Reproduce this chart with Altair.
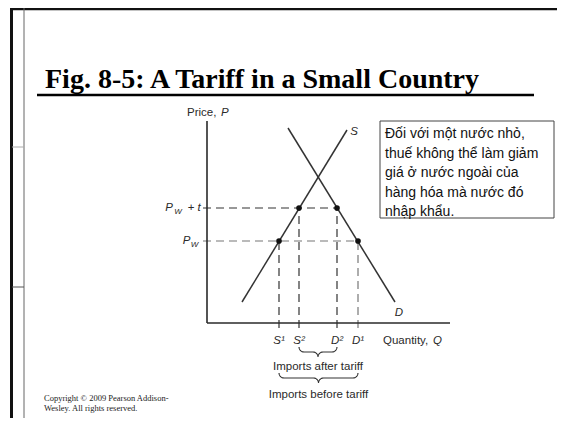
import math
import altair as alt
import pandas as pd

W, H = 549, 410

# ---------------- data ----------------
supply_q = [35, 140]
supply_p = [21, 193]
demand_q = [81, 188]
demand_p = [195, 21]
price_world = 82          # P_W
price_tariff = 115        # P_W + t
qty_labels = ["S¹", "S²", "D²", "D¹"]
qty_values = [72, 92, 130, 151]
q_axis_max = 243
p_axis_max = 202

title_text = "Fig. 8-5: A Tariff in a Small Country"
box_lines = ["Đối với một nước nhỏ,", "thuế không thể làm giảm",
             "giá ở nước ngoài của", "hàng hóa mà nước đó", "nhập khẩu."]
copyright_lines = ["Copyright © 2009 Pearson Addison-", "Wesley. All rights reserved."]
brace_labels = ["Imports after tariff", "Imports before tariff"]

S1, S2, D2, D1 = qty_values

XS = alt.Scale(domain=[-199, 350], nice=False, zero=False)
YS = alt.Scale(domain=[-95, 315], nice=False, zero=False)
SANS = "Liberation Sans"
SERIF = "Liberation Serif"
INK = "#2a2a2a"


def xq(field="q"):
    return alt.X(f"{field}:Q", scale=XS, axis=None)


def yp(field="p"):
    return alt.Y(f"{field}:Q", scale=YS, axis=None)


one = alt.InlineData(values=[{"k": 0}])

# ---------------- slide decoration ----------------
frame = [
    alt.Chart(one).mark_rule(color="#111", strokeWidth=3).encode(
        x=alt.value(3.5), y=alt.value(0), y2=alt.value(H)),
    alt.Chart(one).mark_rule(color="#111", strokeWidth=2.5).encode(
        x=alt.value(2), x2=alt.value(W), y=alt.value(1)),
    alt.Chart(one).mark_rule(color="#666", strokeWidth=1).encode(
        x=alt.value(16), y=alt.value(0), y2=alt.value(H)),
    alt.Chart(one).mark_rule(color="#aaa", strokeWidth=1).encode(
        x=alt.value(4), x2=alt.value(16), y=alt.value(139)),
    alt.Chart(one).mark_rule(color="#555", strokeWidth=1).encode(
        x=alt.value(4), x2=alt.value(16), y=alt.value(279)),
]

title = alt.Chart(one).mark_text(
    font=SERIF, fontSize=28, fontWeight="bold", align="left",
    baseline="alphabetic", color="#000"
).encode(x=alt.value(37), y=alt.value(80), text=alt.value(title_text))

underline = alt.Chart(one).mark_rule(color="#000", strokeWidth=2.5).encode(
    x=alt.value(29), x2=alt.value(526), y=alt.value(87))

copyright = alt.Chart(one).mark_text(
    font=SERIF, fontSize=8.5, align="left", baseline="alphabetic",
    lineHeight=10, color="#222"
).encode(x=alt.value(36), y=alt.value(393), text=alt.value(copyright_lines))

box = alt.Chart(one).mark_rect(fill="white", stroke="#444", strokeWidth=1).encode(
    x=alt.value(372), x2=alt.value(546), y=alt.value(113), y2=alt.value(210))

box_text = alt.Chart(one).mark_text(
    font=SANS, fontSize=14, align="left", baseline="alphabetic",
    lineHeight=19.5, color="#111"
).encode(x=alt.value(377), y=alt.value(130), text=alt.value(box_lines))

# ---------------- economics diagram ----------------
axes_df = pd.DataFrame({"q": [0, 0], "p": [0, 0],
                        "q2": [q_axis_max, 0], "p2": [0, p_axis_max]})
axes = alt.Chart(axes_df).mark_rule(color=INK, strokeWidth=1.6).encode(
    x=xq(), y=yp(), x2="q2:Q", y2="p2:Q")

curves_df = pd.DataFrame({
    "q": supply_q + demand_q,
    "p": supply_p + demand_p,
    "curve": ["S", "S", "D", "D"],
})
curves = alt.Chart(curves_df).mark_line(color="#333", strokeWidth=1.5).encode(
    x=xq(), y=yp(), detail="curve:N")

hdash_dark = alt.Chart(pd.DataFrame({"q": [-4], "q2": [D2], "p": [price_tariff]})).mark_rule(
    color="#333", strokeWidth=1.2, strokeDash=[8, 5]).encode(x=xq(), x2="q2:Q", y=yp())
hdash_light = alt.Chart(pd.DataFrame({"q": [-4], "q2": [D1], "p": [price_world]})).mark_rule(
    color="#777", strokeWidth=1.2, strokeDash=[8, 5]).encode(x=xq(), x2="q2:Q", y=yp())

vd = pd.DataFrame({"q": [S1, S2, D2], "p": [price_world, price_tariff, price_tariff],
                   "p0": [-5, -5, -5]})
vdash_dark = alt.Chart(vd).mark_rule(
    color="#333", strokeWidth=1.2, strokeDash=[8, 5]).encode(x=xq(), y=yp("p0"), y2="p:Q")
vdash_light = alt.Chart(pd.DataFrame({"q": [D1], "p": [price_world], "p0": [-5]})).mark_rule(
    color="#777", strokeWidth=1.2, strokeDash=[8, 5]).encode(x=xq(), y=yp("p0"), y2="p:Q")

pts_df = pd.DataFrame({"q": [S1, D1, S2, D2],
                       "p": [price_world, price_world, price_tariff, price_tariff]})
points = alt.Chart(pts_df).mark_point(filled=True, color="#111", size=32, opacity=1).encode(
    x=xq(), y=yp())

# curve labels
s_lab = alt.Chart(pd.DataFrame({"q": [supply_q[1]], "p": [supply_p[1]]})).mark_text(
    font=SANS, fontStyle="italic", fontSize=11.5, dx=7, dy=2, color=INK
).encode(x=xq(), y=yp(), text=alt.value("S"))
d_lab = alt.Chart(pd.DataFrame({"q": [demand_q[1]], "p": [demand_p[1]]})).mark_text(
    font=SANS, fontStyle="italic", fontSize=11.5, dx=4, dy=11, color=INK
).encode(x=xq(), y=yp(), text=alt.value("D"))

# quantity tick labels
qlab = alt.Chart(pd.DataFrame({"q": qty_values, "lab": qty_labels, "p": [0] * 4})).mark_text(
    font=SANS, fontStyle="italic", fontSize=11.5, dy=18, color=INK
).encode(x=xq(), y=yp(), text="lab:N")


# price tick labels
def ptext(p, txt, dx, dy=0, size=11.5, italic=True):
    return alt.Chart(pd.DataFrame({"q": [0], "p": [p]})).mark_text(
        font=SANS, fontStyle="italic" if italic else "normal", fontSize=size,
        dx=dx, dy=dy, color=INK
    ).encode(x=xq(), y=yp(), text=alt.value(txt))


plabels = [
    ptext(price_tariff, "P", -38),
    ptext(price_tariff, "W", -29, dy=4, size=8),
    ptext(price_tariff, "+", -16, italic=False),
    ptext(price_tariff, "t", -8),
    ptext(price_world, "P", -20.5),
    ptext(price_world, "W", -12.5, dy=4, size=8),
]

# axis titles
price_title = [
    alt.Chart(one).mark_text(font=SANS, fontSize=11.5, align="left", color=INK).encode(
        x=alt.value(179), y=alt.value(105), text=alt.value("Price,")),
    alt.Chart(one).mark_text(font=SANS, fontSize=11.5, fontStyle="italic", align="left",
                             color=INK).encode(
        x=alt.value(213), y=alt.value(105), text=alt.value("P")),
]
qty_title = [
    alt.Chart(one).mark_text(font=SANS, fontSize=11.5, align="left", color=INK).encode(
        x=alt.value(375), y=alt.value(333), text=alt.value("Quantity,")),
    alt.Chart(one).mark_text(font=SANS, fontSize=11.5, fontStyle="italic", align="left",
                             color=INK).encode(
        x=alt.value(425), y=alt.value(333), text=alt.value("Q")),
]


# braces (derived from the quantity values)
def brace(a, b, top, depth, name, n=8):
    r = depth / 2.0
    m = (a + b) / 2.0
    left = []
    for i in range(n + 1):
        t = math.pi / 2 * i / n
        left.append((a + r - r * math.cos(t), top - r * math.sin(t)))
    for i in range(n + 1):
        t = math.pi / 2 * i / n
        left.append((m - r + r * math.sin(t), top - 2 * r + r * math.cos(t)))
    right = [(2 * m - q, p) for q, p in reversed(left)]
    pts = left + right[1:]
    return pd.DataFrame({"q": [p[0] for p in pts], "p": [p[1] for p in pts],
                         "i": list(range(len(pts))), "b": name})


braces_df = pd.concat([brace(S2, D2, -24, 10, "after"),
                       brace(S1, D1, -50, 10, "before")])
braces = alt.Chart(braces_df).mark_line(color="#333", strokeWidth=1.1).encode(
    x=xq(), y=yp(), detail="b:N", order="i:Q")

brace_text = alt.Chart(pd.DataFrame({
    "q": [(S2 + D2) / 2, (S1 + D1) / 2], "p": [-44, -72], "lab": brace_labels
})).mark_text(font=SANS, fontSize=11.5, color=INK).encode(x=xq(), y=yp(), text="lab:N")

chart = alt.layer(
    *frame, title, underline, copyright,
    hdash_dark, hdash_light, vdash_dark, vdash_light,
    axes, curves, points, s_lab, d_lab, qlab, *plabels,
    *price_title, *qty_title, braces, brace_text,
    box, box_text,
).properties(
    width=W, height=H, padding=0, autosize=alt.AutoSizeParams(type="none"),
    background="white"
).configure_view(stroke=None)

chart.save("out.html", embed_options={"renderer": "svg", "actions": False})
